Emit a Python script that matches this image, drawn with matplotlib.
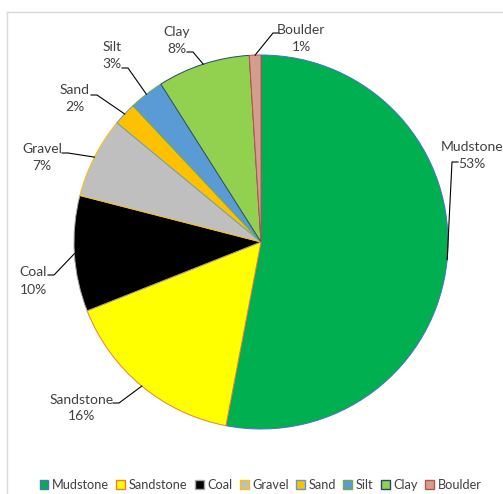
import matplotlib.pyplot as plt
from matplotlib.lines import Line2D
from matplotlib.patches import Patch
import numpy as np

W, H = 503, 494
CX, CY, R = 261, 242, 187   # pie centre / radius in pixels

categories = ["Mudstone", "Sandstone", "Coal", "Gravel", "Sand", "Silt", "Clay", "Boulder"]
shares = [53, 16, 10, 7, 2, 3, 8, 1]
fill_colors = ["#00B050", "#FFFF00", "#000000", "#BFBFBF", "#FFC000", "#5B9BD5", "#92D050", "#D59E8C"]
edge_colors = ["#4472C4", "#ED7D31", "#A5A5A5", "#FFC000", "#5B9BD5", "#70AD47", "#264478", "#C0504D"]

# label layout (pixel positions of text centre, and where the leader meets the text)
label_centre = [(472, 155), (82, 408), (33, 281), (42, 157), (75, 98), (112, 55), (177, 40), (301, 38)]
leader_end = [(458, 162), (113, 403), (48, 275), (62, 153), (91, 95), (122, 68), (187, 52), (279, 33)]


def px(x, y):
    """pixel -> data units of the pie axes"""
    return (x - CX) / R, (CY - y) / R


plt.rcParams['font.family'] = ['Lato', 'DejaVu Sans']

fig = plt.figure(figsize=(W / 100, H / 100), dpi=100)
ax = fig.add_axes([(CX - R) / W, (H - CY - R) / H, 2 * R / W, 2 * R / H])

wedges, _ = ax.pie(shares, colors=fill_colors, startangle=90, counterclock=False,
                   radius=1, wedgeprops=dict(linewidth=0.7))
for w, ec in zip(wedges, edge_colors):
    w.set_edgecolor(ec)
ax.set_xlim(-1, 1)
ax.set_ylim(-1, 1)
ax.axis("off")

for i, w in enumerate(wedges):
    mid = np.deg2rad((w.theta1 + w.theta2) / 2)
    ex, ey = np.cos(mid), np.sin(mid)
    lx, ly = px(*leader_end[i])
    side = 1 if leader_end[i][0] < CX else -1
    elx = lx + side * 6 / R
    ax.plot([ex, elx, lx], [ey, ly, ly], color="#000000", lw=0.8, clip_on=False)
    tx, ty = px(*label_centre[i])
    ax.text(tx, ty, f"{categories[i]}\n{shares[i]}%", ha="center", va="center",
            fontsize=10, color="#404040", linespacing=1.5, clip_on=False)

# chart area border (only left/top are visible in the crop)
fig.add_artist(Line2D([7 / W, 7 / W], [0, 1 - 12 / H], color="#D9D9D9", lw=1))
fig.add_artist(Line2D([7 / W, 1], [1 - 12 / H, 1 - 12 / H], color="#D9D9D9", lw=1))

handles = [Patch(facecolor=f, edgecolor=e, linewidth=1) for f, e in zip(fill_colors, edge_colors)]
fig.legend(handles, categories, loc="center", bbox_to_anchor=(0.518, 1 - 485 / H), ncol=8,
           frameon=False, fontsize=9.2, handlelength=0.7, handleheight=0.7,
           handletextpad=0.3, columnspacing=0.55, labelcolor="#404040")

fig.savefig("out.png", dpi=100)
